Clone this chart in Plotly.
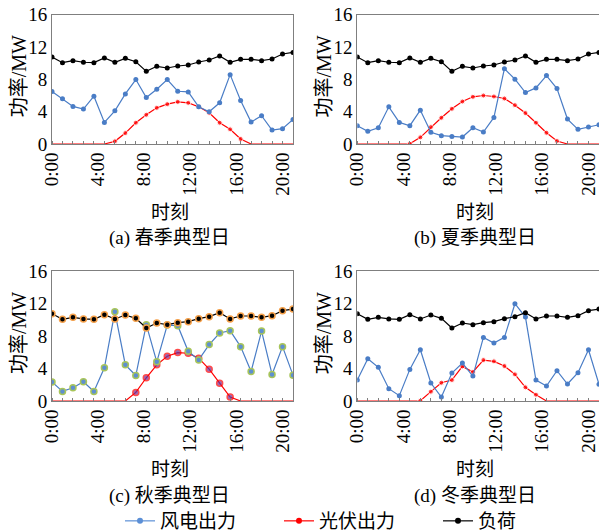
import plotly.graph_objects as go

W, H = 599, 532

hours = list(range(24))
tick_hours = [0, 4, 8, 12, 16, 20]
tick_labels = ["0:00", "4:00", "8:00", "12:00", "16:00", "20:00"]
y_ticks = [0, 4, 8, 12, 16]

load = [10.75, 10.05, 10.3, 10.1, 10.05, 10.63, 10.1, 10.58, 10.17, 8.98, 9.6, 9.39,
        9.64, 9.76, 10.13, 10.38, 10.87, 10.1, 10.46, 10.46, 10.3, 10.5, 11.12, 11.32]

wind_a = [6.48, 5.58, 4.64, 4.31, 5.91, 2.67, 4.10, 6.19, 7.96, 5.74, 6.77, 7.96,
          6.52, 6.44, 4.59, 3.98, 5.09, 8.57, 5.37, 2.71, 3.49, 1.72, 1.89, 3.04]
pv_a = [0, 0, 0, 0, 0, 0, 0.33, 1.35, 2.63, 3.61, 4.47, 4.92,
        5.21, 5.09, 4.59, 3.86, 2.63, 1.81, 0.62, 0, 0, 0, 0, 0]

wind_b = [2.26, 1.56, 2.01, 4.59, 2.67, 2.26, 4.18, 1.44, 1.03, 0.94, 0.86, 2.01,
          1.48, 3.28, 9.31, 8.0, 6.36, 6.93, 8.45, 6.85, 3.08, 1.81, 2.09, 2.38]
pv_b = [0, 0, 0, 0, 0, 0.03, 0.82, 2.09, 3.24, 4.35, 5.25, 5.83,
        5.99, 5.87, 5.62, 4.80, 3.82, 2.63, 1.39, 0.37, 0, 0, 0, 0]

wind_c = [2.33, 1.18, 1.63, 2.37, 1.18, 4.08, 10.98, 4.45, 3.14, 9.39, 4.82, 9.35,
          9.27, 6.12, 5.06, 6.94, 8.37, 8.65, 6.69, 3.63, 8.61, 3.27, 6.69, 3.18]
pv_c = [0, 0, 0, 0, 0, 0, 0, 0, 1.06, 2.86, 4.45, 5.51,
        5.96, 5.88, 5.27, 3.92, 2.20, 0.49, 0, 0, 0, 0, 0, 0]

wind_d = [2.58, 5.20, 4.14, 1.52, 0.66, 3.89, 6.31, 2.21, 0.49, 3.44, 4.67, 3.07,
          7.83, 7.13, 7.83, 11.97, 10.33, 2.58, 1.84, 3.73, 2.09, 3.48, 6.31, 2.05]
pv_d = [0, 0, 0, 0, 0, 0, 0.03, 1.15, 2.25, 2.58, 4.26, 3.57,
        5.04, 4.88, 4.30, 3.28, 1.68, 0.78, 0, 0, 0, 0, 0, 0]

captions = ["(a) 春季典型日", "(b) 夏季典型日", "(c) 秋季典型日", "(d) 冬季典型日"]
names = ["风电出力", "光伏出力", "负荷"]

BLUE = "#4A7DC6"
RED = "#FF0000"
BLACK = "#000000"
FONT = "Liberation Serif, Noto Sans CJK SC"

fig = go.Figure()

panels = [
    (wind_a, pv_a, 1, False),
    (wind_b, pv_b, 2, False),
    (wind_c, pv_c, 3, True),
    (wind_d, pv_d, 4, False),
]

for wind, pv, k, special in panels:
    xa = "x" if k == 1 else f"x{k}"
    ya = "y" if k == 1 else f"y{k}"
    pv_sizes = [(6 if special else 5) if v > 0 else 0 for v in pv]
    if special:
        wm = dict(size=6, color="#5E8FD0", line=dict(color="#A8C55A", width=1.5))
        pm = dict(size=pv_sizes, color="#6A2C9A", line=dict(color=RED, width=1.5))
        lm = dict(size=6, color=BLACK, line=dict(color="#F5A04A", width=1.5))
    else:
        wm = dict(size=5, color=BLUE)
        pm = dict(size=pv_sizes, color=RED)
        lm = dict(size=5, color=BLACK)
    fig.add_trace(go.Scatter(x=hours, y=pv, mode="lines+markers", xaxis=xa, yaxis=ya,
                             line=dict(color=RED, width=1.2), marker=pm, showlegend=False))
    fig.add_trace(go.Scatter(x=hours, y=wind, mode="lines+markers", xaxis=xa, yaxis=ya,
                             line=dict(color=BLUE, width=1.2), marker=wm, showlegend=False))
    fig.add_trace(go.Scatter(x=hours, y=load, mode="lines+markers", xaxis=xa, yaxis=ya,
                             line=dict(color=BLACK, width=1.2), marker=lm, showlegend=False))

# legend-only entries
for nm, col in zip(names, ["#5B8FD6", RED, BLACK]):
    fig.add_trace(go.Scatter(x=[None], y=[None], mode="lines+markers", name=nm,
                             line=dict(color=col, width=1.2), marker=dict(size=6, color=col)))


def px_x(p):
    return p / W


def px_y(p):
    return 1 - p / H


col_px = [(52, 293), (357.3, 599)]
row_px = [(14.5, 144), (271, 401)]

tick_pos = [h * 1.1 for h in tick_hours]

layout = dict(
    width=W, height=H,
    margin=dict(l=0, r=0, t=0, b=0, autoexpand=False),
    paper_bgcolor="white", plot_bgcolor="white",
    font=dict(family=FONT, size=19, color="black"),
    showlegend=True,
    legend=dict(orientation="h", x=px_x(120), y=px_y(521), xanchor="left", yanchor="middle",
                font=dict(family=FONT, size=19), entrywidth=114, entrywidthmode="pixels",
                bgcolor="rgba(0,0,0,0)"),
)

annotations = []
for k in range(1, 5):
    r = (k - 1) // 2
    c = (k - 1) % 2
    x0, x1 = col_px[c]
    y0, y1 = row_px[r]
    xname = "xaxis" if k == 1 else f"xaxis{k}"
    yname = "yaxis" if k == 1 else f"yaxis{k}"
    ya = "y" if k == 1 else f"y{k}"
    xa = "x" if k == 1 else f"x{k}"
    layout[xname] = dict(
        domain=[px_x(x0), min(px_x(x1), 1.0)], anchor=ya, range=[0, 23],
        tickmode="array", tickvals=tick_pos, ticktext=tick_labels, tickangle=-90,
        ticks="", showline=True, linecolor="#7F7F7F", linewidth=1, mirror=True,
        showgrid=False, zeroline=False, automargin=False, ticklabeloverflow="allow",
        tickfont=dict(family=FONT, size=19),
        minor=dict(tickmode="array", tickvals=hours, ticks="inside", ticklen=3,
                   tickcolor="#7F7F7F", tickwidth=1, showgrid=False),
    )
    layout[yname] = dict(
        domain=[px_y(y1), px_y(y0)], anchor=xa, range=[0, 16],
        tickmode="array", tickvals=y_ticks, ticks="",
        showline=True, linecolor="#7F7F7F", linewidth=1, mirror=True,
        showgrid=False, zeroline=False, automargin=False, ticklabeloverflow="allow",
        tickfont=dict(family=FONT, size=19),
    )
    cx = (x0 + x1) / 2 - 3
    annotations.append(dict(text="时刻", x=px_x(cx), y=px_y(y1 + 68.5), xref="paper", yref="paper",
                            showarrow=False, font=dict(family=FONT, size=19),
                            xanchor="center", yanchor="middle"))
    annotations.append(dict(text=captions[k - 1], x=px_x(cx), y=px_y(y1 + 94.5),
                            xref="paper", yref="paper", showarrow=False,
                            font=dict(family=FONT, size=19), xanchor="center", yanchor="middle"))
    annotations.append(dict(text="功率/MW", x=px_x(x0 - 33), y=px_y((y0 + y1) / 2 - 3),
                            xref="paper", yref="paper", showarrow=False, textangle=-90,
                            font=dict(family=FONT, size=20), xanchor="center", yanchor="middle"))

layout["annotations"] = annotations
fig.update_layout(**layout)

# remove the default page margin so the 599x532 figure fills the window exactly
fig.write_html("out.html",
               config={"displayModeBar": False},
               post_script="document.body.style.margin='0';document.body.style.overflow='hidden';")
